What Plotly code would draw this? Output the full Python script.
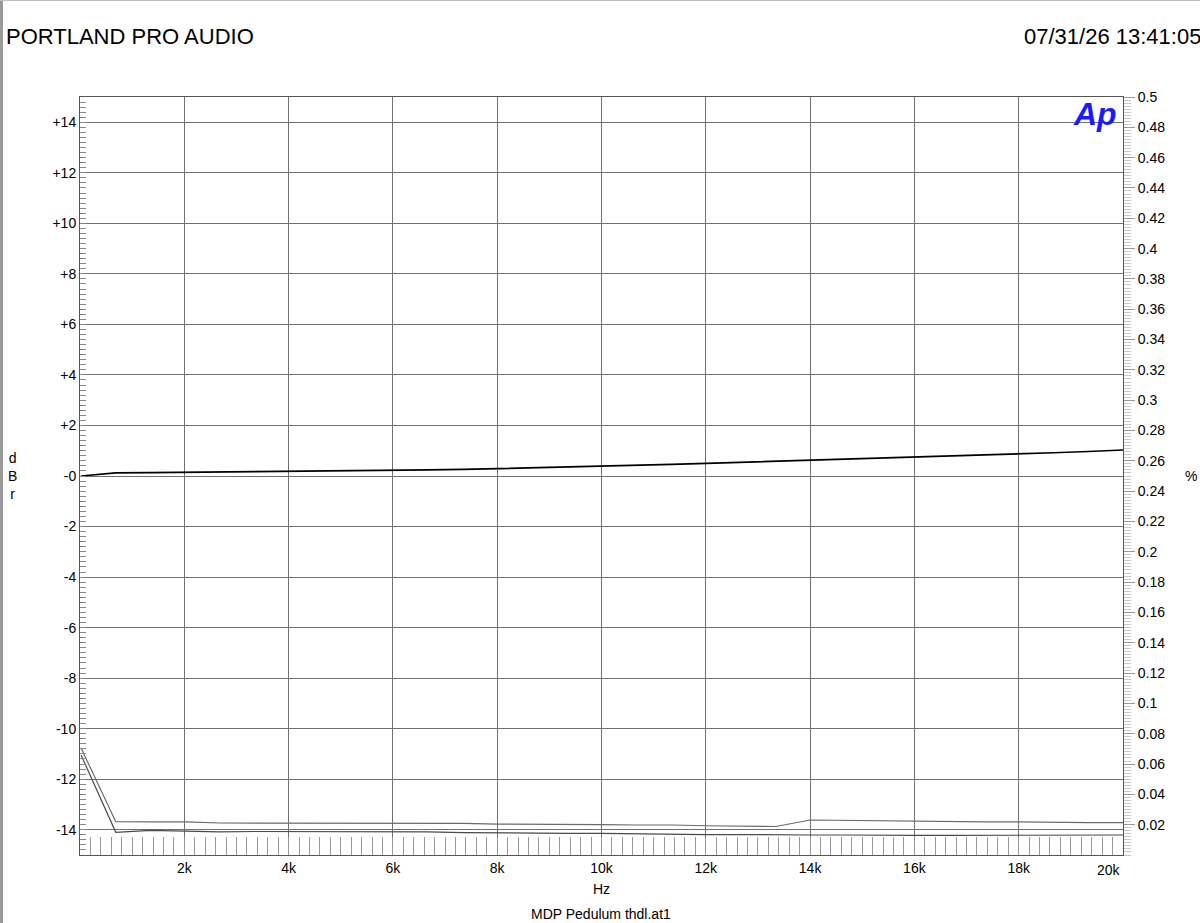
import plotly.graph_objects as go

# ---------------- data ----------------
freq_hz = [20, 686, 1352, 2018, 2684, 3350, 4016, 4682, 5348, 6014, 6680,
           7346, 8012, 8678, 9344, 10010, 10676, 11342, 12008, 12674, 13340,
           14006, 14672, 15338, 16004, 16670, 17336, 18002, 18668, 19334, 20000]

level_dbr = [0.00, 0.12, 0.13, 0.14, 0.15, 0.16, 0.17, 0.18, 0.20, 0.22, 0.24,
             0.26, 0.29, 0.32, 0.35, 0.39, 0.42, 0.46, 0.50, 0.54, 0.58,
             0.62, 0.66, 0.70, 0.74, 0.78, 0.83, 0.88, 0.92, 0.97, 1.03]

thd_upper_pct = [0.0706, 0.0220, 0.0218, 0.0219, 0.0211, 0.0211, 0.0212, 0.0211, 0.0208, 0.0212, 0.0208,
                 0.0208, 0.0204, 0.0204, 0.0201, 0.0201, 0.0198, 0.0198, 0.0193, 0.0191, 0.0188,
                 0.0231, 0.0228, 0.0224, 0.0221, 0.0221, 0.0218, 0.0218, 0.0214, 0.0214, 0.0214]

thd_lower_pct = [0.0660, 0.0150, 0.0162, 0.0155, 0.0152, 0.0155, 0.0155, 0.0152, 0.0152, 0.0155, 0.0152,
                 0.0148, 0.0145, 0.0145, 0.0142, 0.0142, 0.0139, 0.0139, 0.0135, 0.0135, 0.0132,
                 0.0132, 0.0132, 0.0129, 0.0129, 0.0129, 0.0129, 0.0129, 0.0132, 0.0132, 0.0132]

db_tick_vals = [-14, -12, -10, -8, -6, -4, -2, 0, 2, 4, 6, 8, 10, 12, 14]
db_tick_text = ["-14", "-12", "-10", "-8", "-6", "-4", "-2", "-0",
                "+2", "+4", "+6", "+8", "+10", "+12", "+14"]

pct_tick_vals = [0.02, 0.04, 0.06, 0.08, 0.10, 0.12, 0.14, 0.16, 0.18, 0.20, 0.22, 0.24, 0.26,
                 0.28, 0.30, 0.32, 0.34, 0.36, 0.38, 0.40, 0.42, 0.44, 0.46, 0.48, 0.50]
pct_tick_text = ["0.02", "0.04", "0.06", "0.08", "0.1", "0.12", "0.14", "0.16", "0.18", "0.2",
                 "0.22", "0.24", "0.26", "0.28", "0.3", "0.32", "0.34", "0.36", "0.38", "0.4",
                 "0.42", "0.44", "0.46", "0.48", "0.5"]

hz_tick_vals = [2000, 4000, 6000, 8000, 10000, 12000, 14000, 16000, 18000]
hz_tick_text = ["2k", "4k", "6k", "8k", "10k", "12k", "14k", "16k", "18k"]
hz_last_val = 20000
hz_last_text = "20k"

# ---------------- figure ----------------
W, H = 1200, 923
ML, MR, MT, MB = 80, 77, 97, 68
PW, PH = W - ML - MR, H - MT - MB


def px_x(px):
    return (px - ML) / PW


def px_y(py):
    return (H - MB - py) / PH


FONT = "Liberation Sans, Arial, Helvetica, sans-serif"

fig = go.Figure()
fig.add_trace(go.Scatter(x=freq_hz, y=thd_upper_pct, yaxis="y2", mode="lines",
                         line=dict(color="#6a6a6a", width=1.2), hoverinfo="skip"))
fig.add_trace(go.Scatter(x=freq_hz, y=thd_lower_pct, yaxis="y2", mode="lines",
                         line=dict(color="#4a4a4a", width=1.2), hoverinfo="skip"))
fig.add_trace(go.Scatter(x=freq_hz, y=level_dbr, yaxis="y", mode="lines",
                         line=dict(color="#000000", width=1.7), hoverinfo="skip"))

fig.update_layout(
    width=W, height=H,
    margin=dict(l=ML, r=MR, t=MT, b=MB, pad=0),
    paper_bgcolor="white", plot_bgcolor="white",
    showlegend=False,
    font=dict(family=FONT, size=14, color="black"),
    xaxis=dict(
        range=[0, 20000], tickmode="array", tickvals=hz_tick_vals, ticktext=hz_tick_text,
        ticks="inside", ticklen=18, tickcolor="#999999", tickwidth=1,
        showgrid=True, gridcolor="#707070", gridwidth=1,
        showline=True, linecolor="#555555", linewidth=1, mirror=True,
        zeroline=False, tickfont=dict(size=14),
        minor=dict(tickmode="linear", dtick=200, tick0=0, ticks="inside", ticklen=18,
                   tickcolor="#9a9a9a", tickwidth=1, showgrid=False),
    ),
    yaxis=dict(
        range=[-15, 15], tickmode="array", tickvals=db_tick_vals, ticktext=db_tick_text,
        ticks="inside", ticklen=6, tickcolor="#888888", tickwidth=1,
        showgrid=True, gridcolor="#707070", gridwidth=1,
        showline=True, linecolor="#555555", linewidth=1, mirror=True,
        zeroline=False, tickfont=dict(size=14),
        minor=dict(tickmode="linear", dtick=0.2, tick0=0, ticks="inside", ticklen=6,
                   tickcolor="#8a8a8a", tickwidth=1, showgrid=False),
    ),
    yaxis2=dict(
        overlaying="y", side="right", anchor="x",
        range=[0, 0.5], tickmode="array", tickvals=pct_tick_vals, ticktext=pct_tick_text,
        ticks="outside", ticklen=11, tickcolor="#9a9a9a", tickwidth=1,
        showgrid=False, zeroline=False, showline=False, tickfont=dict(size=14),
        minor=dict(tickmode="linear", dtick=0.002, tick0=0, ticks="outside", ticklen=7,
                   tickcolor="#c8c8c8", tickwidth=1, showgrid=False),
    ),
)

annotations = [
    dict(text="PORTLAND PRO AUDIO", x=px_x(4), y=px_y(37), xanchor="left", yanchor="middle",
         font=dict(size=22, family=FONT)),
    dict(text="07/31/26 13:41:05", x=px_x(1203), y=px_y(37), xanchor="right", yanchor="middle",
         font=dict(size=22, family=FONT)),
    dict(text="d<br>B<br>r", x=px_x(12), y=px_y(476), xanchor="center", yanchor="middle",
         font=dict(size=14, family=FONT)),
    dict(text="%", x=px_x(1191), y=px_y(476), xanchor="center", yanchor="middle",
         font=dict(size=14, family=FONT)),
    dict(text="Hz", x=px_x(601), y=px_y(889), xanchor="center", yanchor="middle",
         font=dict(size=14, family=FONT)),
    dict(text="MDP Pedulum thdl.at1", x=px_x(601), y=px_y(914), xanchor="center", yanchor="middle",
         font=dict(size=14, family=FONT)),
    dict(text="<b><i>Ap</i></b>", x=px_x(1095), y=px_y(114), xanchor="center", yanchor="middle",
         font=dict(size=32, family=FONT, color="#1a1aff")),
]
for a in annotations:
    a.update(xref="paper", yref="paper", showarrow=False)
# last x tick label, right-aligned to the plot edge as in the reference
annotations.append(dict(text=hz_last_text, x=hz_last_val, xref="x", y=px_y(870), yref="paper",
                        xanchor="right", yanchor="middle", showarrow=False,
                        font=dict(size=14, family=FONT)))
fig.update_layout(annotations=annotations)

# page frame (gray left bar, thin top line)
fig.add_shape(type="rect", xref="paper", yref="paper",
              x0=px_x(0), x1=px_x(3), y0=px_y(H), y1=px_y(0),
              fillcolor="#9a9a9a", line=dict(width=0), layer="above")
fig.add_shape(type="rect", xref="paper", yref="paper",
              x0=px_x(0), x1=px_x(W), y0=px_y(1), y1=px_y(0),
              fillcolor="#bdbdbd", line=dict(width=0), layer="above")

fig.write_html("out.html", config={"displayModeBar": False},
               post_script="document.body.style.margin='0';document.body.style.overflow='hidden';")
